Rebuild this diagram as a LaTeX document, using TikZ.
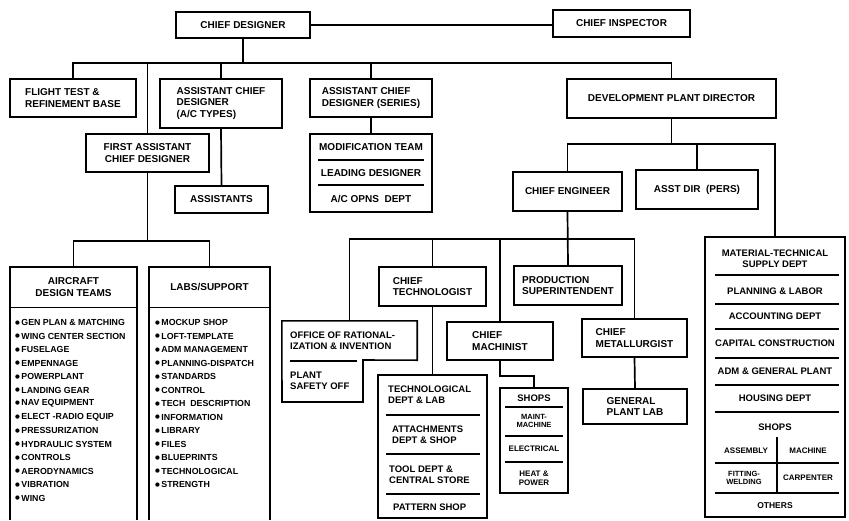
\documentclass[tikz,border=0pt]{standalone}
\usepackage{fontspec}
\setmainfont{Liberation Sans}
\newfontfamily\symfont{DejaVu Sans}
\newcommand{\bul}{\raisebox{1.2pt}{\symfont\fontsize{5.5}{6}\selectfont ●}\,}
\begin{document}
\begin{tikzpicture}[x=1pt,y=-1pt,
  box/.style={draw, line width=1.6pt, inner sep=1pt, align=center, font=\bfseries\fontsize{10}{11.5}\selectfont},
  lbox/.style={box, align=left},
  conn/.style={line width=1.7pt},
  boxline/.style={line width=1.6pt},
  divline/.style={line width=1.3pt},
  txt/.style={inner sep=0pt, align=center, font=\bfseries\fontsize{9.5}{11}\selectfont},
  ltxt/.style={txt, align=left, anchor=west},
  smalltxt/.style={inner sep=0pt, align=center, font=\bfseries\fontsize{8}{9}\selectfont},
  hdr/.style={inner sep=0pt, align=center, font=\bfseries\fontsize{10}{11.5}\selectfont},
  item/.style={inner sep=0pt, anchor=west, font=\bfseries\fontsize{8.8}{10}\selectfont}
]
\useasboundingbox[fill=white] (0,0) rectangle (849,520);

\coordinate (barA) at (0,63);
\coordinate (barB) at (0,144);
\coordinate (barC) at (0,239);
\coordinate (barD) at (0,241);
\coordinate (bot) at (0,520);

% top level
\node[box, minimum width=134, minimum height=26] (cd) at (243,25) {CHIEF DESIGNER};
\node[box, minimum width=137, minimum height=27] (ci) at (621.5,23.5) {CHIEF INSPECTOR};

% second level
\node[lbox, minimum width=126, minimum height=38] (ft) at (73,98) {FLIGHT TEST \&\\REFINEMENT BASE};
\node[lbox, minimum width=122, minimum height=49] (acd1) at (221,103.5) {ASSISTANT CHIEF\\DESIGNER\\(A/C TYPES)};
\node[lbox, minimum width=122, minimum height=38] (acd2) at (371,98) {ASSISTANT CHIEF\\DESIGNER (SERIES)};
\node[box, minimum width=209, minimum height=39] (dpd) at (671.5,98.5) {DEVELOPMENT PLANT DIRECTOR};

% third level
\node[box, minimum width=123, minimum height=38] (facd) at (147.5,153) {FIRST ASSISTANT\\CHIEF DESIGNER};
\node[box, minimum width=93, minimum height=27] (asst) at (221.5,199.5) {ASSISTANTS};

\node[box, minimum width=122, minimum height=78] (mod) at (371,173) {};
\node[txt, font=\bfseries\fontsize{10}{11}\selectfont] (mod1) at (371,147) {MODIFICATION TEAM};
\draw[divline] (318,160) -- (424,160);
\node[txt, font=\bfseries\fontsize{10}{11}\selectfont] (mod2) at (371,173) {LEADING DESIGNER};
\draw[divline] (318,185) -- (424,185);
\node[txt, font=\bfseries\fontsize{10}{11}\selectfont] (mod3) at (371,199) {A/C OPNS\ \ DEPT};

\node[box, minimum width=109, minimum height=39] (ce) at (567.5,191.5) {CHIEF ENGINEER};
\node[box, minimum width=122, minimum height=39] (ad) at (697,189.5) {ASST DIR\ \ (PERS)};

% material-technical box
\node[box, minimum width=140, minimum height=280] (mat) at (775,377) {};
\node[txt] (m1) at (775,259) {MATERIAL-TECHNICAL\\SUPPLY DEPT};
\draw[divline] (715,275) -- (839,275);
\node[txt] (m2) at (775,291) {PLANNING \& LABOR};
\draw[divline] (715,304) -- (839,304);
\node[txt] (m3) at (775,316) {ACCOUNTING DEPT};
\draw[divline] (715,329) -- (839,329);
\node[txt] (m4) at (775,343) {CAPITAL CONSTRUCTION};
\draw[divline] (715,358) -- (839,358);
\node[txt] (m5) at (775,371.5) {ADM \& GENERAL PLANT};
\draw[divline] (715,385) -- (839,385);
\node[txt] (m6) at (775,398.5) {HOUSING DEPT};
\draw[divline] (715,412) -- (839,412);
\node[txt] (m7) at (775,427) {SHOPS};
\draw[divline] (777,437) -- (777,493);
\node[smalltxt] (m8) at (746,451) {ASSEMBLY};
\node[smalltxt] (m9) at (808,451) {MACHINE};
\draw[divline] (715,463) -- (839,463);
\node[smalltxt, font=\bfseries\fontsize{7.5}{8.5}\selectfont] (m10) at (744,478) {FITTING-\\WELDING};
\node[smalltxt] (m11) at (808,478) {CARPENTER};
\draw[divline] (715,493) -- (839,493);
\node[smalltxt, font=\bfseries\fontsize{8.5}{9}\selectfont] (m12) at (775,506) {OTHERS};

% chief engineer level
\node[lbox, minimum width=107, minimum height=39] (ct) at (432.5,286.5) {CHIEF\\TECHNOLOGIST};
\node[lbox, minimum width=108, minimum height=39] (ps) at (568,285.5) {PRODUCTION\\SUPERINTENDENT};

% office of rationalization (stepped box)
\node[inner sep=0pt, minimum width=135, minimum height=39] (orr) at (349.5,340.5) {};
\draw[boxline] (orr.north west) -- (orr.north east) -- (orr.south east) -- (363,360) -- (363,402) -- (282,402) -- cycle;
\node[ltxt] (orr1) at (290,341) {OFFICE OF RATIONAL-\\IZATION \& INVENTION};
\draw[divline] (290,361) -- (357,361);
\node[ltxt] (orr2) at (290,381) {PLANT\\SAFETY OFF};

\node[lbox, minimum width=106, minimum height=38] (cm) at (500,341) {CHIEF\\MACHINIST};
\node[lbox, minimum width=105, minimum height=38] (cmet) at (634.5,338) {CHIEF\\METALLURGIST};

% technological box
\node[box, minimum width=109, minimum height=143] (tech) at (432.5,446.5) {};
\node[ltxt] (tech1) at (388,395) {TECHNOLOGICAL\\DEPT \& LAB};
\draw[divline] (386,415) -- (480,415);
\node[ltxt] (tech2) at (392,435) {ATTACHMENTS\\DEPT \& SHOP};
\draw[divline] (386,454) -- (480,454);
\node[ltxt] (tech3) at (389,475) {TOOL DEPT \&\\CENTRAL STORE};
\draw[divline] (386,494) -- (480,494);
\node[ltxt] (tech4) at (393,507) {PATTERN SHOP};

% shops box
\node[box, minimum width=68, minimum height=105] (shops) at (534,440.5) {};
\node[txt, font=\bfseries\fontsize{9.5}{10}\selectfont] (s1) at (534,398) {SHOPS};
\draw[divline] (505,407) -- (563,407);
\node[smalltxt, font=\bfseries\fontsize{7.5}{8.5}\selectfont] (s2) at (534,421) {MAINT-\\MACHINE};
\draw[divline] (505,436) -- (563,436);
\node[smalltxt] (s3) at (534,449) {ELECTRICAL};
\draw[divline] (505,462) -- (563,462);
\node[smalltxt] (s4) at (534,478) {HEAT \&\\POWER};

\node[lbox, minimum width=104, minimum height=35] (gpl) at (635,406.5) {GENERAL\\PLANT LAB};

% aircraft design teams
\node[hdr, minimum width=127, minimum height=40] (adt) at (73.5,287) {AIRCRAFT\\DESIGN TEAMS};
\draw[boxline] (adt.west |- bot) -- (adt.north west) -- (adt.north east) -- (adt.east |- bot);
\draw[divline] (adt.south west) -- (adt.south east);
\foreach \t [count=\i from 0] in {GEN PLAN \& MATCHING, WING CENTER SECTION, FUSELAGE, EMPENNAGE, POWERPLANT, LANDING GEAR, NAV EQUIPMENT, ELECT -RADIO EQUIP, PRESSURIZATION, HYDRAULIC SYSTEM, CONTROLS, AERODYNAMICS, VIBRATION, WING}
  \node[item] (adti\i) at (15,{322.5+13.5*\i}) {\bul\t};

% labs / support
\node[hdr, minimum width=121, minimum height=40] (labs) at (209.5,287) {LABS/SUPPORT};
\draw[boxline] (labs.west |- bot) -- (labs.north west) -- (labs.north east) -- (labs.east |- bot);
\draw[divline] (labs.south west) -- (labs.south east);
\foreach \t [count=\i from 0] in {MOCKUP SHOP, LOFT-TEMPLATE, ADM MANAGEMENT, PLANNING-DISPATCH, STANDARDS, CONTROL, TECH\ \ DESCRIPTION, INFORMATION, LIBRARY, FILES, BLUEPRINTS, TECHNOLOGICAL, STRENGTH}
  \node[item] (labsi\i) at (155,{322.5+13.5*\i}) {\bul\t};

% connectors
\draw[conn] (cd.east) -- (cd.east -| ci.west);
\draw[conn] (cd.south) -- (cd.south |- barA);
\draw[conn] (ft.north) |- (dpd.north |- barA) -- (dpd.north);
\draw[conn] (facd.north) -- (facd.north |- barA);
\draw[conn] (acd1.north) -- (acd1.north |- barA);
\draw[conn] (acd2.north) -- (acd2.north |- barA);
\draw[conn] (acd1.south) -- (asst.north);
\draw[conn] (acd2.south) -- (mod.north);
\draw[conn] (facd.south) -- (facd.south |- barD);
\draw[conn] (adt.north) |- (labs.north |- barD) -- (labs.north);
\draw[conn] (dpd.south) -- (dpd.south |- barB);
\draw[conn] (ce.north) |- (mat.north |- barB) -- (mat.north);
\draw[conn] (ad.north) -- (ad.north |- barB);
\draw[conn] (ce.south) -- (ps.north);
\draw[conn] (orr.north) |- (cmet.north |- barC) -- (cmet.north);
\draw[conn] (ct.north) -- (ct.north |- barC);
\draw[conn] (cm.north) -- (cm.north |- barC);
\draw[conn] (ct.south) -- (tech.north);
\draw[conn] (cm.south) -- ++(0,15) -| (shops.north);
\draw[conn] (cmet.south) -- (gpl.north);
\end{tikzpicture}
\end{document}
